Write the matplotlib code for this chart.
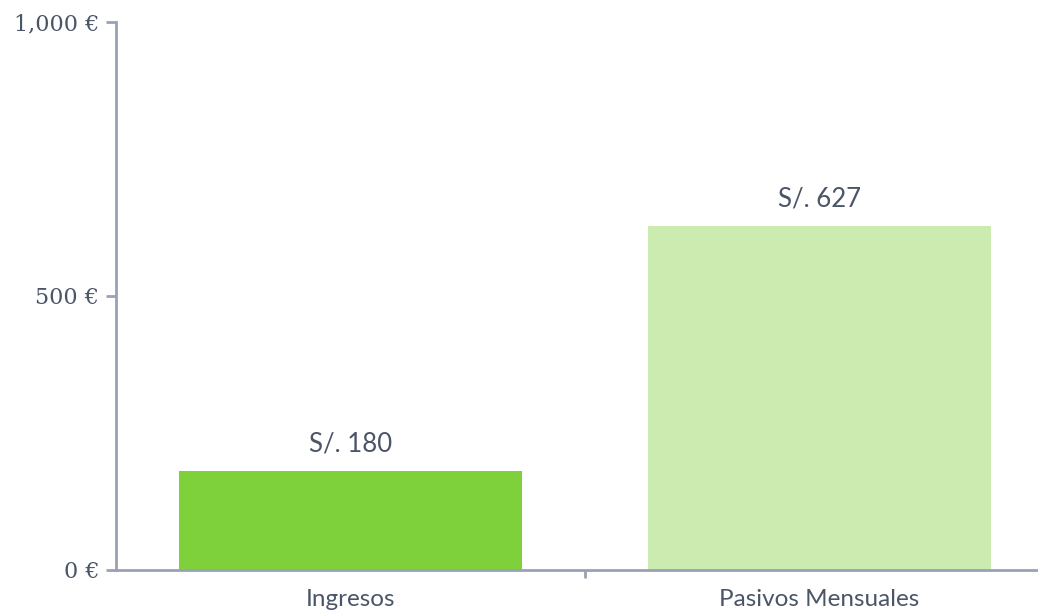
import matplotlib
matplotlib.use("Agg")
import matplotlib.pyplot as plt
from matplotlib.ticker import FuncFormatter

categories = ["Ingresos", "Pasivos Mensuales"]
values = [180, 627]
labels = ["S/. 180", "S/. 627"]
colors = ["#7FD13B", "#CCEBB0"]
yticks = [0, 500, 1000]

axis_color = "#98A2B6"
text_color = "#4B5568"

fig = plt.figure(figsize=(10.38, 6.12), dpi=100)
ax = fig.add_axes([116 / 1038, 42 / 612, 938 / 1038, 548 / 612])

x = range(len(categories))
bars = ax.bar(x, values, width=0.73, color=colors, zorder=2)
for b, lab in zip(bars, labels):
    ax.text(b.get_x() + b.get_width() / 2, b.get_height() + 28, lab,
            ha="center", va="bottom", fontsize=18.5, color=text_color,
            family="Lato")

ax.set_xlim(-0.5, 1.5)
ax.set_ylim(0, 1000)
ax.set_yticks(yticks)
ax.yaxis.set_major_formatter(FuncFormatter(lambda v, p: "{:,.0f} €".format(v)))
for t in ax.get_yticklabels():
    t.set_family("DejaVu Serif")
    t.set_fontsize(16)
    t.set_color(text_color)

ax.set_xticks([0.5])
ax.set_xticklabels([""])
ax.set_xticks(list(x), minor=True)
ax.set_xticklabels(categories, minor=True, fontsize=17.5, color=text_color,
                   family="Lato")
ax.tick_params(axis="x", which="minor", length=0, pad=14)
ax.tick_params(axis="x", which="major", length=6, width=2, color=axis_color, direction="out")
ax.tick_params(axis="y", length=7, width=2, color=axis_color, direction="out", pad=5)

for s in ["top", "right"]:
    ax.spines[s].set_visible(False)
for s in ["left", "bottom"]:
    ax.spines[s].set_color(axis_color)
    ax.spines[s].set_linewidth(2)

fig.savefig("out.png", dpi=100)
